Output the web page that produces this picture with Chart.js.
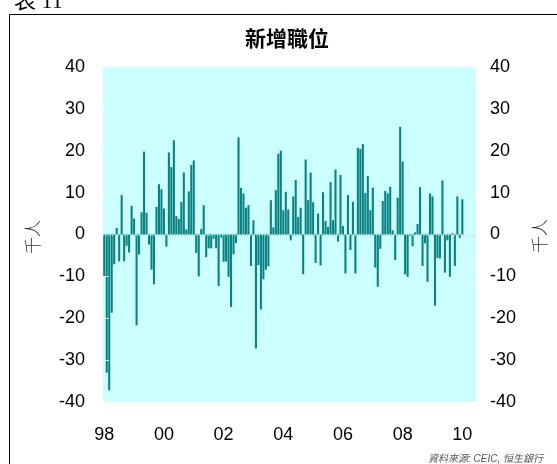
<!DOCTYPE html>
<html><head><meta charset="utf-8">
<script src="https://cdn.jsdelivr.net/npm/chart.js@4"></script>
<style>
html,body{margin:0;padding:0;background:#fff;}
#wrap{position:relative;width:557px;height:464px;overflow:hidden;}
canvas{position:absolute;left:0;top:0;}
</style></head><body>
<div id="wrap"><canvas id="c" width="557" height="464"></canvas></div>
<script>
// 新增職位 (千人), monthly, Jan 1998 – Jan 2010
const jobs1998 = [-10, -33, -37.2, -18.7, -7.1, 1.6, -6.4, 9.4, -6.4, -2.7, -4.3, 6.9];
const jobs1999 = [3.8, -21.7, -4.8, 5.3, 19.8, 5.2, -2.4, -8.4, -11.9, 6.6, 12, 10.8];
const jobs2000 = [6.2, -2.9, 19.6, 16.1, 22.5, 4.4, 3.7, 7.8, 14.8, 1.2, 10.3, 16.6];
const jobs2001 = [17.7, -4.4, -10, 1.3, 7, -5.4, -3.3, -3.3, -1, -3.3, -12.3, -0.7];
const jobs2002 = [-6.5, -6.5, -10.1, -17.3, -4.7, -2, 23.2, 11.1, 9.8, 6.4, 7, -7.5];
const jobs2003 = [3.4, -27.2, -7.3, -17.9, -10.7, -8.4, -7.6, 8.2, 1.7, 10.6, 19.3, 20];
const jobs2004 = [5.8, 10.2, 6, -1.4, 9.1, 13, 4.2, 6.4, -9.5, 17.9, 8.2, 14.8];
const jobs2005 = [7.7, -6.8, 5, -7.4, 10.1, 3.2, 1.8, 12.5, 3.4, 15.5, -1.7, 14.2];
const jobs2006 = [2, -9.3, 9.4, -3.7, 7.8, -9.3, 20.7, 20.4, 21.6, 9.9, 14, 5.8];
const jobs2007 = [11.2, -7.9, -12.5, -3.4, 8, 10.4, 9.8, 11.4, 1, -6.1, 8.8, 25.7];
const jobs2008 = [17.4, -9.5, -10.1, -0.3, -2.8, 0.5, 2.5, 11.3, -7.5, -2.1, -11.3, 9.8];
const jobs2009 = [9.1, -17, -5.6, -5.7, 12.9, -9.1, -1.4, -10.1, 0.3, -7.5, 9.1, -0.8];
const jobs2010 = [8.4, null, null, null, null, null];

const yearTickLabels = ['98', '00', '02', '04', '06', '08', '10'];
const yTicks = [-40, -30, -20, -10, 0, 10, 20, 30, 40];

const values = [].concat(jobs1998, jobs1999, jobs2000, jobs2001, jobs2002, jobs2003,
  jobs2004, jobs2005, jobs2006, jobs2007, jobs2008, jobs2009, jobs2010);
const monthLabels = values.map((v, i) => {
  const y = 1998 + Math.floor(i / 12), m = (i % 12) + 1;
  return y + '-' + (m < 10 ? '0' + m : m);
});

const bgPlugin = {
  id: 'bg',
  beforeDatasetsDraw(chart) {
    const a = chart.chartArea, c = chart.ctx;
    c.save();
    c.fillStyle = '#ccffff';
    c.fillRect(a.left, a.top, a.right - a.left, a.bottom - a.top);
    c.restore();
  }
};

const decoPlugin = {
  id: 'deco',
  afterDatasetsDraw(chart) {
    const a = chart.chartArea, c = chart.ctx, ys = chart.scales.y;
    c.save();
    const y0 = Math.round(ys.getPixelForValue(0)) + 0.5;
    c.strokeStyle = '#9ad6d6';
    c.lineWidth = 1;
    c.setLineDash([1, 2]);
    c.beginPath(); c.moveTo(a.left, y0); c.lineTo(a.right, y0); c.stroke();
    c.setLineDash([]);
    c.strokeStyle = 'rgba(255,255,255,0.85)';
    yTicks.forEach(t => {
      if (t === 0 || Math.abs(t) === 40) return;
      const yy = Math.round(ys.getPixelForValue(t)) + 0.5;
      c.beginPath(); c.moveTo(a.left, yy); c.lineTo(a.left + 6, yy); c.stroke();
    });
    c.restore();
  },
  afterDraw(chart) {
    const c = chart.ctx;
    c.save();
    c.strokeStyle = '#000';
    c.lineWidth = 1;
    c.beginPath(); c.moveTo(9.5, 464); c.lineTo(9.5, 14.5); c.lineTo(557, 14.5); c.stroke();
    c.fillStyle = '#000';
    c.textBaseline = 'alphabetic';
    c.textAlign = 'left';
    c.font = '22px "Liberation Serif", "Noto Sans CJK TC"';
    c.fillText('表 11', 14, 8);
    c.font = 'bold 21px "Noto Sans CJK TC"';
    c.textAlign = 'center';
    c.textBaseline = 'middle';
    c.fillText('新增職位', 287, 38);
    c.font = '300 17px "Noto Sans CJK TC"';
    c.fillStyle = '#333';
    [[33, 237], [540, 236]].forEach(p => {
      c.save();
      c.translate(p[0], p[1]);
      c.rotate(-Math.PI / 2);
      c.fillText('千人', 0, 0);
      c.restore();
    });
    c.font = 'italic 10px "Liberation Sans", "Noto Sans CJK TC"';
    c.fillStyle = '#555';
    c.textAlign = 'left';
    c.textBaseline = 'alphabetic';
    c.fillText('資料來源: CEIC, 恒生銀行', 428, 462);
    c.restore();
  }
};

const tickFont = { family: '"Liberation Sans", Arial', size: 18 };

new Chart(document.getElementById('c').getContext('2d'), {
  type: 'bar',
  data: {
    labels: monthLabels,
    datasets: [{
      data: values,
      backgroundColor: '#0a8282',
      borderWidth: 0,
      barPercentage: 0.84,
      categoryPercentage: 1,
      yAxisID: 'y'
    }]
  },
  options: {
    responsive: false,
    animation: false,
    devicePixelRatio: 1,
    layout: { padding: { top: 67, right: 0, bottom: 0, left: 0 } },
    plugins: { legend: { display: false }, title: { display: false }, tooltip: { enabled: false } },
    scales: {
      x: {
        grid: { display: false, drawTicks: false },
        border: { display: false },
        ticks: {
          autoSkip: false, maxRotation: 0, minRotation: 0, padding: 22,
          font: tickFont, color: '#000',
          callback: (v, i) => (i % 24 === 0 ? yearTickLabels[i / 24] : '')
        },
        afterFit: a => { a.height = 62; }
      },
      y: {
        position: 'left', min: -40, max: 40,
        ticks: { stepSize: 10, padding: 18, font: tickFont, color: '#000' },
        grid: { display: false, drawTicks: false },
        border: { display: false },
        afterFit: a => { a.width = 103; }
      },
      y2: {
        position: 'right', min: -40, max: 40,
        ticks: { stepSize: 10, padding: 14, font: tickFont, color: '#000' },
        grid: { display: false, drawTicks: false },
        border: { display: false },
        afterFit: a => { a.width = 81; }
      }
    }
  },
  plugins: [bgPlugin, decoPlugin]
});
</script>
</body></html>
